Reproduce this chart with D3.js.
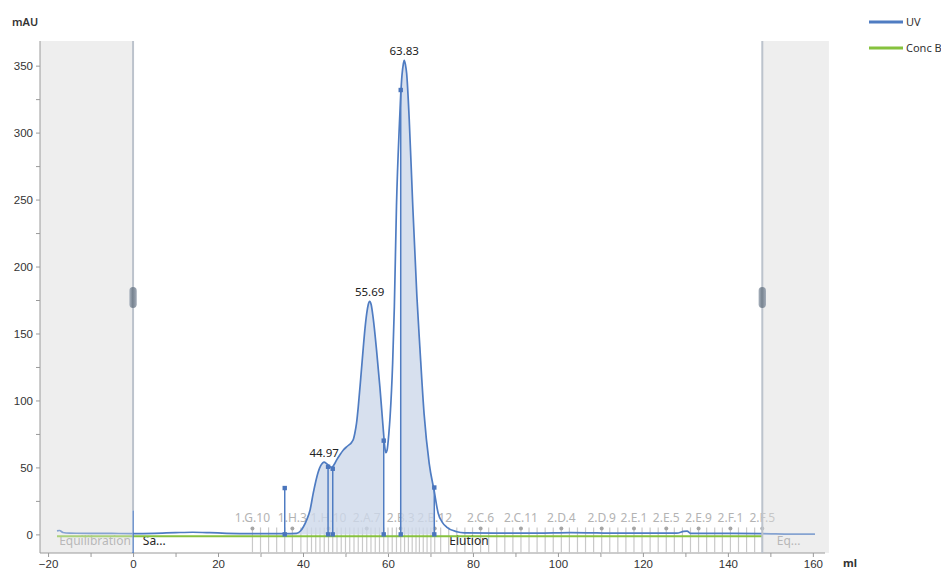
<!DOCTYPE html>
<html><head><meta charset="utf-8">
<script src="https://cdn.jsdelivr.net/npm/d3@7"></script>
<style>
body{margin:0;background:#fff;}
svg{display:block;font-family:"Segoe UI","Noto Sans","Open Sans",sans-serif;}
</style></head><body>
<svg id="chart" width="941" height="574"></svg>
<script>
// ---------------- DATA ----------------
const uvVolume = [-17.9,-17.3,-16.5,-15,-10,-5,0,5,10,14,18,22,28,34,35.7,38.5,39.4,40.1,40.9,41.65,42.4,43.0,43.6,44.2,44.97,45.5,46.0,46.75,47.3,47.9,48.7,49.5,50.5,51.5,51.9,52.2,52.6,53.0,53.6,54.2,54.6,55.0,55.35,55.69,56.05,56.5,57.3,58.1,58.7,59.0,59.25,59.5,59.8,60.2,60.5,61.1,61.5,62.0,62.7,63.0,63.3,63.6,63.83,64.1,64.4,65.0,65.8,66.8,67.5,68.5,69.7,70.9,71.8,72.8,73.8,76.2,78,85,95,103,107,112,120,128,129.6,130.4,131.2,140,148,155,160.5];
const uvValue  = [2.6,2.9,1.4,0.9,0.8,0.7,0.6,0.8,1.3,1.6,1.3,0.8,0.5,0.5,0.5,0.8,2.5,5.7,11,18,30.6,39.5,46.8,51.5,54,53,51.5,50,52,55.5,59.5,63,66,69,71.5,75.5,83,95,117,140,154,165,171.5,174,171.5,162,138,110,86,74,65,61,63,75,88,128,170,245,307,328,343,351,354,351,344,310,248,178,140,90,53,32,16,9,5.5,2,1.2,1.0,0.9,1.3,1.2,0.9,0.9,0.9,2.2,2.4,0.8,0.7,0.6,0.2,0.2];
const concBVolume = [-17.9, 148.1];
const concBValue = [0, 0];
const peakVolume = [44.97, 55.69, 63.83];
const peakHeight = [54, 174, 354];
const peakLabels = ["44.97", "55.69", "63.83"];
const peakMarkVolume = [35.7, 45.9, 47.0, 59.0, 63.0, 70.9];
const peakMarkHeight = [34.6, 50.5, 49, 70, 331.8, 35];
const shadedStart = [35.7, 63.0];
const shadedEnd = [59.0, 70.9];
const injectionVolume = [0];
const injectionHeight = [18];
const fractionNames = ["1.G.10","1.G.11","1.G.12","1.H.1","1.H.2","1.H.3","1.H.4","1.H.5","1.H.6","1.H.7","1.H.8","1.H.9","1.H.10","1.H.11","1.H.12",
 "2.A.1","2.A.2","2.A.3","2.A.4","2.A.5","2.A.6","2.A.7","2.A.8","2.A.9","2.A.10","2.A.11","2.A.12",
 "2.B.1","2.B.2","2.B.3","2.B.4","2.B.5","2.B.6","2.B.7","2.B.8","2.B.9","2.B.10","2.B.11","2.B.12",
 "2.C.1","2.C.2","2.C.3","2.C.4","2.C.5","2.C.6","2.C.7","2.C.8","2.C.9","2.C.10","2.C.11","2.C.12",
 "2.D.1","2.D.2","2.D.3","2.D.4","2.D.5","2.D.6","2.D.7","2.D.8","2.D.9","2.D.10","2.D.11","2.D.12",
 "2.E.1","2.E.2","2.E.3","2.E.4","2.E.5","2.E.6","2.E.7","2.E.8","2.E.9","2.E.10","2.E.11","2.E.12",
 "2.F.1","2.F.2","2.F.3","2.F.4","2.F.5"];
const fractionVolume = [28.1,30.0,31.9,33.8,35.7,37.5,39.5,41.0,42.0,43.0,44.0,45.0,46.0,47.0,48.0,
 49.0,50.0,51.0,52.0,53.0,54.0,55.0,56.0,57.0,58.0,59.0,60.0,
 61.0,62.0,63.0,63.9,64.8,65.7,66.6,67.4,68.3,69.2,70.1,71.0,
 72.4,74.3,76.2,78.1,79.9,81.8,83.7,85.6,87.5,89.4,91.3,93.2,
 95.1,97.0,98.9,100.8,102.7,104.6,106.5,108.4,110.3,112.2,114.1,116.0,
 117.9,119.8,121.7,123.6,125.5,127.4,129.3,131.2,133.1,135.0,136.9,138.7,
 140.6,142.5,144.4,146.3,148.1];
const labeledFractions = ["1.G.10","1.H.3","1.H.10","2.A.7","2.B.3","2.B.12","2.C.6","2.C.11","2.D.4","2.D.9","2.E.1","2.E.5","2.E.9","2.F.1","2.F.5"];
const phaseNames = ["Equilibration", "Sa...", "Elution", "Eq..."];
const phaseStart = [-17.9, 0, 10, 148.1];
const phaseEnd = [0, 10, 148.1, 160.5];
const phaseInRun = [false, true, true, false];
const excludedStart = [-21.9, 148.1];
const excludedEnd = [0, 163.8];
const xMajorTicks = [-20, 0, 20, 40, 60, 80, 100, 120, 140, 160];
const xMinorTicks = [-10, 10, 30, 50, 70, 90, 110, 130, 150];
const yMajorTicks = [0, 50, 100, 150, 200, 250, 300, 350];
const yMinorTicks = [25, 75, 125, 175, 225, 275, 325];
const seriesNames = ["UV", "Conc B"];
const seriesColors = ["#4f7cc2", "#86c23e"];

// ---------------- LAYOUT ----------------
const plot = {left: 40, right: 829, top: 41, bottom: 553};
const svg = d3.select("#chart");
const x = d3.scaleLinear().domain([-21.9, 163.8]).range([plot.left, plot.right]);
const y = d3.scaleLinear().domain([-13.9, 368.4]).range([plot.bottom, plot.top]);
const yConc = d3.scaleLinear().domain([0, 100]).range([y(-1.3), plot.top]);
const FONT = 11.5;

const defs = svg.append("defs");
const clip = defs.append("clipPath").attr("id", "shadeClip");
shadedStart.forEach((s, i) => {
  clip.append("rect").attr("x", x(s)).attr("y", plot.top)
    .attr("width", x(shadedEnd[i]) - x(s)).attr("height", plot.bottom - plot.top);
});
const grad = defs.append("linearGradient").attr("id", "handleGrad").attr("x1", 0).attr("x2", 1);
grad.append("stop").attr("offset", "0%").attr("stop-color", "#aab3be");
grad.append("stop").attr("offset", "45%").attr("stop-color", "#76828f");
grad.append("stop").attr("offset", "100%").attr("stop-color", "#a3acb8");

// excluded (grey) regions background
excludedStart.forEach((s, i) => {
  svg.append("rect").attr("x", x(s)).attr("y", plot.top)
    .attr("width", x(excludedEnd[i]) - x(s)).attr("height", plot.bottom - plot.top)
    .attr("fill", "#efefef");
});

// axes
const xAxis = d3.axisBottom(x).tickValues(xMajorTicks.concat(xMinorTicks))
  .tickSize(4).tickPadding(3)
  .tickFormat(d => xMajorTicks.includes(d) ? d3.format("d")(d) : "");
const gx = svg.append("g").attr("transform", `translate(0,${plot.bottom})`).call(xAxis);
const yAxis = d3.axisLeft(y).tickValues(yMajorTicks.concat(yMinorTicks))
  .tickSize(4).tickPadding(3)
  .tickFormat(d => yMajorTicks.includes(d) ? d3.format("d")(d) : "");
const gy = svg.append("g").attr("transform", `translate(${plot.left},0)`).call(yAxis);
[gx, gy].forEach(g => {
  g.select(".domain").attr("stroke", "#9a9a9a");
  g.selectAll(".tick line").attr("stroke", "#9a9a9a");
  g.selectAll(".tick text").attr("fill", "#333").style("font-size", FONT + "px")
    .style("font-family", "inherit");
});
gy.select(".domain").attr("d", `M-0,${plot.bottom}V${plot.top}`);
gx.select(".domain").attr("d", `M${plot.left},0H${plot.right - 4}`);

svg.append("text").attr("x", 12).attr("y", 26).text("mAU")
  .attr("fill", "#333").style("font-size", "11px").style("font-weight", 600);
svg.append("text").attr("x", 843).attr("y", 567).text("ml")
  .attr("fill", "#333").style("font-size", "11px").style("font-weight", 700);

// fraction ticks
const fracG = svg.append("g");
fractionVolume.forEach((v, i) => {
  fracG.append("line").attr("x1", x(v)).attr("x2", x(v))
    .attr("y1", y(0) - 7).attr("y2", plot.bottom + 1)
    .attr("stroke", "#c9c9c9").attr("stroke-width", 1.2);
  if (labeledFractions.includes(fractionNames[i])) {
    fracG.append("circle").attr("cx", x(v)).attr("cy", y(0) - 6).attr("r", 2)
      .attr("fill", "#a6a6a6");
    fracG.append("text").attr("x", x(v)).attr("y", y(0) - 12.6)
      .attr("text-anchor", "middle").text(fractionNames[i])
      .attr("fill", "#b3b3b3").style("font-size", "12px");
  }
});

// phase labels
phaseNames.forEach((p, i) => {
  svg.append("text").attr("x", (x(phaseStart[i]) + x(phaseEnd[i])) / 2).attr("y", y(0) + 11)
    .attr("text-anchor", "middle").text(p)
    .attr("fill", phaseInRun[i] ? "#262626" : "#9b9b9b").style("font-size", "12px");
});

// shaded area under UV
const uvData = uvVolume.map((v, i) => [v, uvValue[i]]);
const area = d3.area().x(d => x(d[0])).y0(y(0)).y1(d => y(d[1])).curve(d3.curveMonotoneX);
svg.append("path").datum(uvData).attr("d", area).attr("clip-path", "url(#shadeClip)")
  .attr("fill", "#cdd8ea").attr("fill-opacity", 0.8);

// Conc B
const concData = concBVolume.map((v, i) => [v, concBValue[i]]);
svg.append("path").datum(concData)
  .attr("d", d3.line().x(d => x(d[0])).y(d => yConc(d[1])))
  .attr("fill", "none").attr("stroke", seriesColors[1]).attr("stroke-width", 2);

// UV line
svg.append("path").datum(uvData)
  .attr("d", d3.line().x(d => x(d[0])).y(d => y(d[1])).curve(d3.curveMonotoneX))
  .attr("fill", "none").attr("stroke", seriesColors[0]).attr("stroke-width", 1.7);

// peak markers
peakMarkVolume.forEach((v, i) => {
  svg.append("line").attr("x1", x(v)).attr("x2", x(v)).attr("y1", y(0)).attr("y2", y(peakMarkHeight[i]))
    .attr("stroke", seriesColors[0]).attr("stroke-width", 1.5);
  [0, peakMarkHeight[i]].forEach(h => {
    svg.append("rect").attr("x", x(v) - 2.2).attr("y", y(h) - 2.2).attr("width", 4.4).attr("height", 4.4)
      .attr("fill", "#4a75bc");
  });
});

// injection mark
injectionVolume.forEach((v, i) => {
  svg.append("line").attr("x1", x(v)).attr("x2", x(v))
    .attr("y1", y(injectionHeight[i])).attr("y2", plot.bottom)
    .attr("stroke", seriesColors[0]).attr("stroke-width", 1.5);
});

// peak labels
peakVolume.forEach((v, i) => {
  svg.append("text").attr("x", x(v)).attr("y", y(peakHeight[i]) - 5)
    .attr("text-anchor", "middle").text(peakLabels[i])
    .attr("fill", "#222").style("font-size", "11.5px");
});

// overlay of excluded regions + boundaries + handles
excludedStart.forEach((s, i) => {
  svg.append("rect").attr("x", x(s) + (i === 0 ? 1 : 0)).attr("y", plot.top)
    .attr("width", x(excludedEnd[i]) - x(s) - 1).attr("height", plot.bottom - plot.top - 1)
    .attr("fill", "#efefef").attr("fill-opacity", 0.35);
});
[excludedEnd[0], excludedStart[1]].forEach(v => {
  svg.append("line").attr("x1", x(v)).attr("x2", x(v)).attr("y1", plot.top).attr("y2", v === 0 ? y(injectionHeight[0]) : plot.bottom)
    .attr("stroke", "#bcc3cc").attr("stroke-width", 2);
  svg.append("rect").attr("x", x(v) - 3.7).attr("y", 287).attr("width", 7.4).attr("height", 21)
    .attr("rx", 3.7).attr("fill", "url(#handleGrad)");
});

// legend
seriesNames.forEach((n, i) => {
  const ly = 22 + i * 26;
  svg.append("line").attr("x1", 869).attr("x2", 903).attr("y1", ly).attr("y2", ly)
    .attr("stroke", seriesColors[i]).attr("stroke-width", 3);
  svg.append("text").attr("x", 906).attr("y", ly + 4).text(n)
    .attr("fill", "#333").style("font-size", "11px");
});
</script>
</body></html>
